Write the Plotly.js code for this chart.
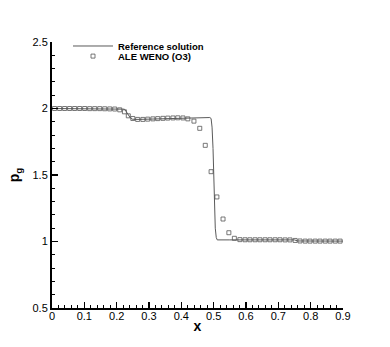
<!DOCTYPE html>
<html>
<head>
<meta charset="utf-8">
<script src="https://cdn.plot.ly/plotly-3.0.1.min.js"></script>
<style>
  html, body { margin: 0; padding: 0; background: #ffffff; }
  #chart { width: 390px; height: 347px; }
</style>
</head>
<body>
<div id="chart"></div>
<script>
  // reference (exact) solution
  const refX = [0, 0.218, 0.224, 0.230, 0.236, 0.242, 0.248, 0.26, 0.30, 0.35, 0.40, 0.45, 0.488, 0.492, 0.495, 0.498, 0.500, 0.502, 0.505, 0.508, 0.511, 0.55, 0.60, 0.70, 0.75, 0.76, 0.80, 0.90];
  const refY = [2.0, 2.0, 1.995, 1.975, 1.95, 1.93, 1.92, 1.918, 1.92, 1.924, 1.928, 1.93, 1.932, 1.925, 1.86, 1.70, 1.50, 1.30, 1.10, 1.03, 1.012, 1.012, 1.012, 1.012, 1.012, 1.004, 1.003, 1.003];

  // ALE WENO (O3) cell values
  const aleX = [0.008, 0.0235, 0.039, 0.0545, 0.070, 0.0855, 0.101, 0.1165, 0.132, 0.1475, 0.163, 0.1785, 0.194, 0.2095,
                0.224, 0.236, 0.250, 0.265, 0.281, 0.296, 0.312, 0.327, 0.343, 0.358, 0.374, 0.389, 0.405, 0.420,
                0.439, 0.457, 0.474, 0.492, 0.510, 0.529, 0.547, 0.564, 0.581,
                0.597, 0.612, 0.628, 0.643, 0.659, 0.674, 0.690, 0.705, 0.721, 0.736, 0.752, 0.767, 0.783, 0.798, 0.814, 0.829, 0.845, 0.860, 0.876, 0.891];
  const aleY = [2.0, 2.0, 2.0, 2.0, 2.0, 2.0, 2.0, 1.999, 1.999, 1.999, 1.998, 1.997, 1.996, 1.99,
                1.975, 1.945, 1.925, 1.918, 1.918, 1.92, 1.922, 1.924, 1.926, 1.928, 1.929, 1.93, 1.929, 1.922,
                1.905, 1.851, 1.723, 1.525, 1.335, 1.169, 1.066, 1.024, 1.014,
                1.013, 1.013, 1.013, 1.013, 1.013, 1.013, 1.013, 1.013, 1.012, 1.012, 1.008, 1.004, 1.003, 1.003, 1.003, 1.003, 1.003, 1.003, 1.003, 1.003];

  const FONT = 'Liberation Sans, Arial, Helvetica, sans-serif';

  const traces = [
    { x: refX, y: refY, type: 'scatter', mode: 'lines', name: 'Reference solution',
      line: { color: '#5a5a5a', width: 1 }, legend: 'legend' },
    { x: aleX, y: aleY, type: 'scatter', mode: 'markers', name: 'ALE WENO (O3)',
      marker: { symbol: 'square-open', size: 4, color: '#555555', line: { width: 0.8, color: '#555555' } },
      legend: 'legend2' }
  ];

  const axisBase = {
    showline: true, linecolor: '#000000', linewidth: 2,
    showgrid: false, zeroline: false, mirror: false,
    ticks: 'inside', ticklen: 6, tickwidth: 1.5, tickcolor: '#000000',
    tickfont: { family: FONT, size: 11, color: '#000000' }
  };

  // one legend per trace so the rows sit as tight as in the original
  const legendBase = {
    xanchor: 'left', yanchor: 'middle', itemwidth: 40,
    bgcolor: 'rgba(0,0,0,0)', borderwidth: 0,
    font: { family: FONT, size: 9.5, color: '#000000', weight: 'bold' }
  };

  const layout = {
    width: 390, height: 347,
    margin: { l: 52, r: 47, t: 42, b: 39 },
    paper_bgcolor: '#ffffff', plot_bgcolor: '#ffffff',
    font: { family: FONT, color: '#000000' },
    xaxis: Object.assign({}, axisBase, {
      range: [0, 0.9], dtick: 0.1, tick0: 0, ticklabelstandoff: -3,
      minor: { ticks: 'inside', ticklen: 3, tickwidth: 1, tickcolor: '#000000', dtick: 0.02 },
      title: { text: '<b>x</b>', font: { family: FONT, size: 14 }, standoff: 0 }
    }),
    yaxis: Object.assign({}, axisBase, {
      range: [0.5, 2.5], dtick: 0.5, tick0: 0.5,
      minor: { ticks: 'inside', ticklen: 3, tickwidth: 1, tickcolor: '#000000', dtick: 0.1 },
      title: { text: '<b>p<sub>g</sub></b>', font: { family: FONT, size: 14 }, standoff: 10 }
    }),
    showlegend: true,
    legend: Object.assign({}, legendBase, { x: 0.055, y: 0.985 }),
    legend2: Object.assign({}, legendBase, { x: 0.055, y: 0.947 })
  };

  Plotly.newPlot('chart', traces, layout, { displayModeBar: false, staticPlot: true });
</script>
</body>
</html>
